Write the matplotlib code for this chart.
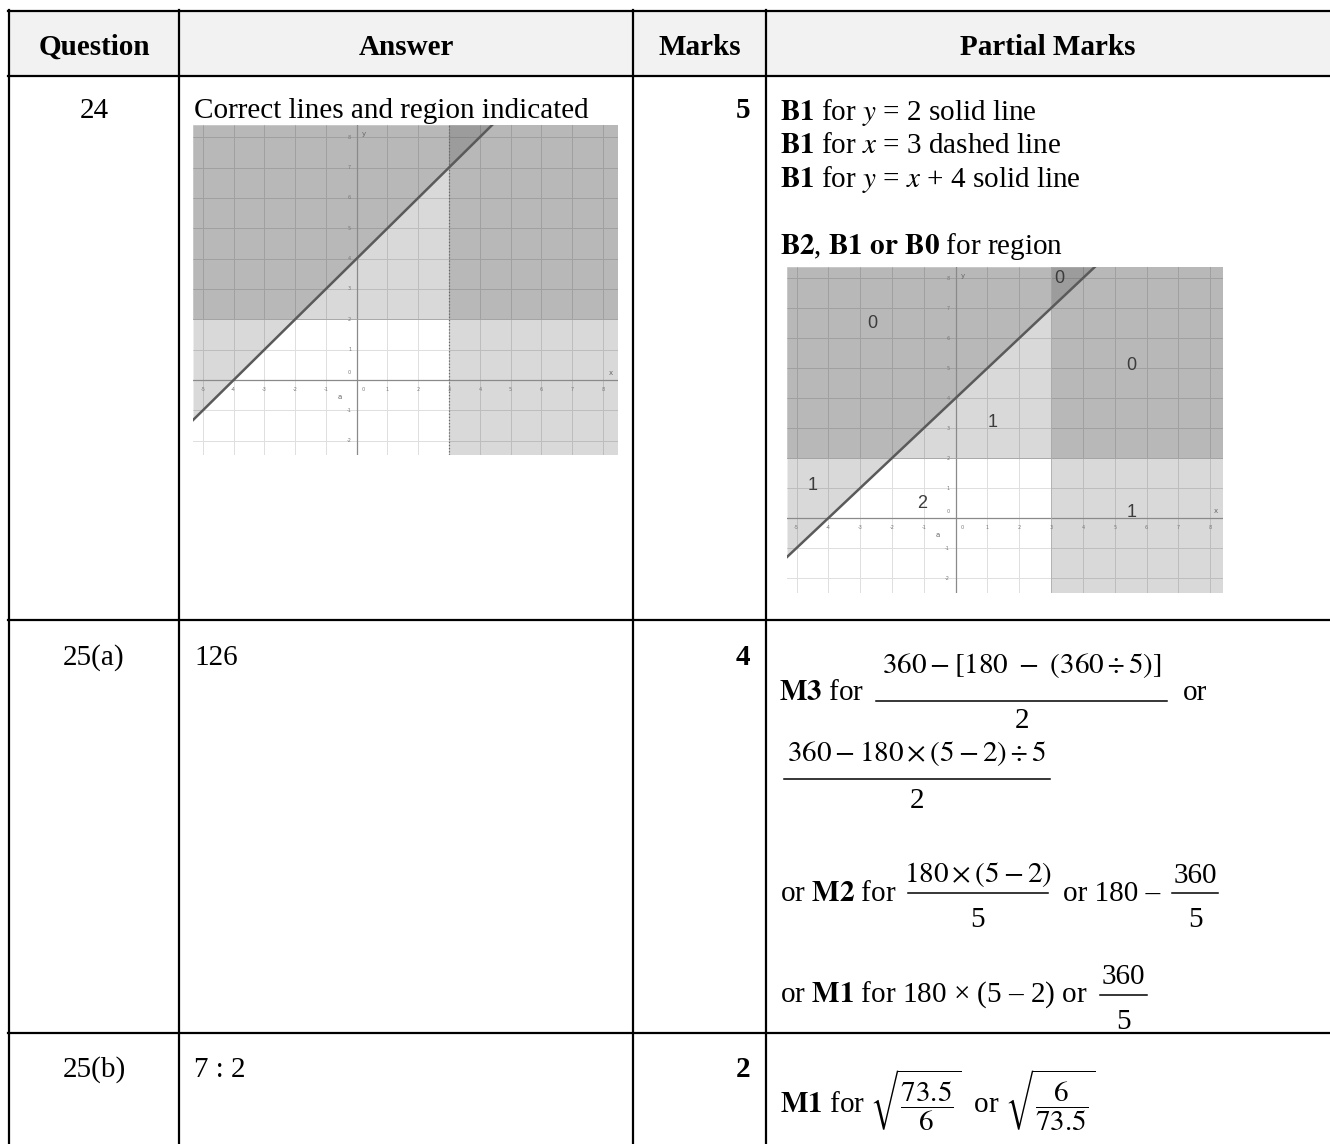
import matplotlib
matplotlib.use("Agg")
import matplotlib.pyplot as plt
from matplotlib.patches import Rectangle
import numpy as np

plt.rcParams['font.family'] = 'Liberation Serif'
plt.rcParams['mathtext.fontset'] = 'stix'

# table content
headers = ["Question", "Answer", "Marks", "Partial Marks"]
questions = ["24", "25(a)", "25(b)"]
answers = ["Correct lines and region indicated", "126", "7 : 2"]
marks = ["5", "4", "2"]

# inequality graph: y = x + 4, y = 2, x = 3
slope, icept = 1, 4
y_bound = 2
x_bound = 3
x_ticks = list(range(-5, 9))
y_ticks = list(range(-2, 9))

# region scores written on the second graph
region_text = ["0", "0", "0", "1", "1", "2", "1"]
region_x = [-2.63, 3.25, 5.52, 1.15, -4.48, -1.05, 5.52]
region_y = [6.5, 8.0, 5.07, 3.2, 1.07, 0.5, 0.2]

W, H = 1330, 1144
fig = plt.figure(figsize=(W / 100, H / 100), dpi=100)
ax = fig.add_axes([0, 0, 1, 1])
ax.set_xlim(0, W)
ax.set_ylim(H, 0)
ax.axis('off')

FS = 21


def txt(x, y, s, ha='left', weight='normal'):
    ax.text(x, y, s, ha=ha, va='baseline', fontsize=FS, fontweight=weight)


def frac(x0, x1, ybar, num, den, num_base, den_base):
    ax.plot([x0, x1], [ybar, ybar], color='black', lw=1.1)
    xc = (x0 + x1) / 2
    txt(xc, num_base, num, ha='center')
    txt(xc, den_base, den, ha='center')


# grid of the table
ax.add_patch(Rectangle((9, 11), W - 9, 65, color='#f2f2f2', lw=0))
for yy in [11, 76, 620, 1033]:
    ax.plot([8, W], [yy, yy], color='black', lw=1.6)
for xx in [9, 179, 633, 766]:
    ax.plot([xx, xx], [10, H], color='black', lw=1.6)

col_centers = [94, 406, 700, 1048]
for c, h in zip(col_centers, headers):
    txt(c, 55, h, ha='center', weight='bold')

row_base = [118, 665, 1077]
for q, a, m, yb in zip(questions, answers, marks, row_base):
    txt(94, yb, q, ha='center')
    txt(194, yb, a)
    txt(750, yb, m, ha='right', weight='bold')

# partial marks, question 24
txt(780, 120, r'$\mathbf{B1}$ for $y$ = 2 solid line')
txt(780, 153, r'$\mathbf{B1}$ for $x$ = 3 dashed line')
txt(780, 187, r'$\mathbf{B1}$ for $y$ = $x$ + 4 solid line')
txt(780, 254, r'$\mathbf{B2}$, $\mathbf{B1}$ $\mathbf{or}$ $\mathbf{B0}$ for region')

# partial marks, question 25(a)
txt(779, 700, r'$\mathbf{M3}$ for')
frac(876, 1167, 701, r'$360-\left[180\ -\ \left(360\div 5\right)\right]$', '2', 673, 728)
txt(1183, 700, 'or')
frac(784, 1050, 779, r'$360-180\times\left(5-2\right)\div 5$', '2', 761, 808)

txt(780, 901, r'or $\mathbf{M2}$ for')
frac(908, 1048, 893, r'$180\times\left(5-2\right)$', '5', 882, 927)
txt(1063, 901, 'or 180 –')
frac(1172, 1218, 893, '360', '5', 883, 927)

txt(780, 1002, r'or $\mathbf{M1}$ for 180 × (5 – 2) or')
frac(1100, 1147, 995, '360', '5', 984, 1029)

# partial marks, question 25(b)
txt(780, 1113, r'$\mathbf{M1}$ for $\sqrt{\dfrac{73.5}{6}}$  or $\sqrt{\dfrac{6}{73.5}}$')


def draw_graph(box, xlim, ylim, dotted, labels):
    x0, y0, x1, y1 = box
    g = fig.add_axes([x0 / W, 1 - y1 / H, (x1 - x0) / W, (y1 - y0) / H])
    g.set_xlim(xlim)
    g.set_ylim(ylim)
    g.axis('off')
    for v in x_ticks:
        g.axvline(v, color='#dedede', lw=0.7, zorder=0)
    for v in y_ticks:
        g.axhline(v, color='#dedede', lw=0.7, zorder=0)
    xs = np.linspace(xlim[0], xlim[1], 300)
    g.fill_between(xs, y_bound, ylim[1], color='black', alpha=0.15, lw=0, zorder=1)
    g.axvspan(x_bound, xlim[1], color='black', alpha=0.15, lw=0, zorder=1)
    g.fill_between(xs, np.minimum(slope * xs + icept, ylim[1]), ylim[1],
                   color='black', alpha=0.15, lw=0, zorder=1)
    # axes
    g.axhline(0, color='#8a8a8a', lw=0.9, zorder=2)
    g.axvline(0, color='#8a8a8a', lw=0.9, zorder=2)
    for v in x_ticks:
        if v != 0:
            g.text(v, -0.22, str(v), fontsize=3.5, color='#777777', ha='center', va='top',
                   family='DejaVu Sans', zorder=3)
    for v in y_ticks:
        if v != 0:
            g.text(-0.18, v, str(v), fontsize=3.5, color='#777777', ha='right', va='center',
                   family='DejaVu Sans', zorder=3)
    g.text(0.15, -0.22, '0', fontsize=3.5, color='#777777', ha='left', va='top',
           family='DejaVu Sans')
    g.text(-0.18, 0.15, '0', fontsize=3.5, color='#777777', ha='right', va='bottom',
           family='DejaVu Sans')
    g.text(xlim[1] - 0.15, 0.12, 'x', fontsize=5, color='#666666', ha='right', va='bottom',
           family='DejaVu Sans')
    g.text(0.15, ylim[1] - 0.2, 'y', fontsize=5, color='#666666', ha='left', va='top',
           family='DejaVu Sans')
    g.text(-0.55, -0.55, 'a', fontsize=5, color='#666666', ha='center', va='center',
           family='DejaVu Sans')
    # boundary lines
    g.axhline(y_bound, color='#a0a0a0', lw=0.6, zorder=2)
    if dotted:
        g.axvline(x_bound, color='#6a6a6a', lw=0.9, ls=(0, (1, 1.5)), zorder=2)
    else:
        g.axvline(x_bound, color='#b0b0b0', lw=0.5, zorder=2)
    g.plot(xs, slope * xs + icept, color='#5a5a5a', lw=1.8, zorder=3)
    if labels:
        for t, lx, ly in zip(region_text, region_x, region_y):
            g.text(lx, ly, t, fontsize=13, color='#3c3c3c', ha='center', va='center',
                   family='Liberation Sans', zorder=4)


draw_graph((193, 125, 618, 455), (-5.32, 8.49), (-2.47, 8.4), True, False)
draw_graph((787, 267, 1223, 593), (-5.3, 8.4), (-2.5, 8.37), False, True)

fig.savefig('out.png', dpi=100, facecolor='white')
